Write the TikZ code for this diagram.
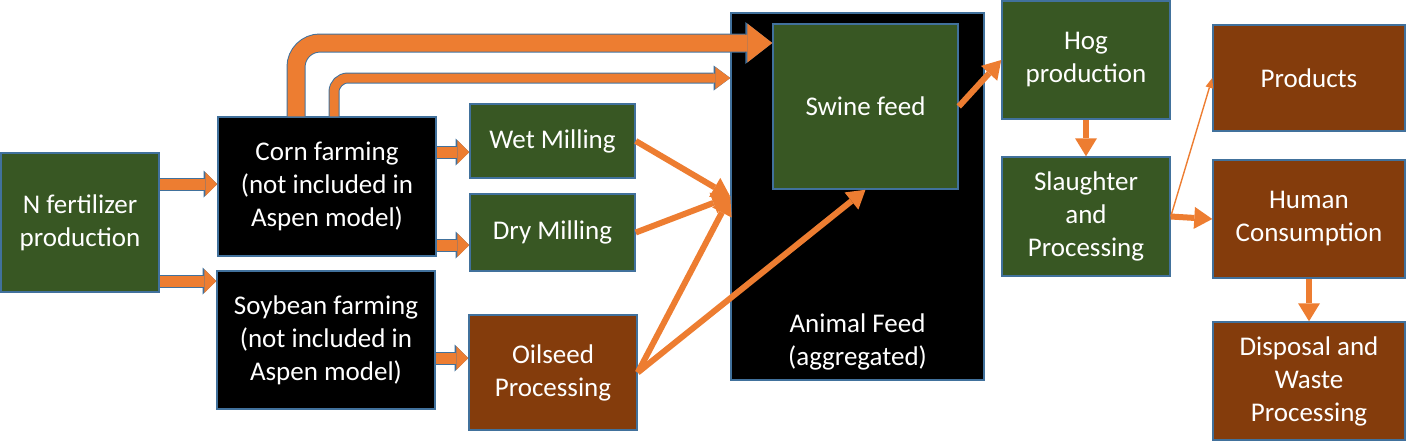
\documentclass[tikz,border=0pt]{standalone}
\usepackage{fontspec}
\setmainfont{Carlito}
\usetikzlibrary{arrows.meta, positioning}
\definecolor{boxgreen}{HTML}{385723}
\definecolor{boxbrown}{HTML}{843C0C}
\definecolor{boxblue}{HTML}{41719C}
\definecolor{arroworange}{HTML}{ED7D31}

\begin{document}
\begin{tikzpicture}[x=0.5pt, y=-0.5pt,
    block/.style={rectangle, draw=boxblue, line width=0.75pt, text=white,
      align=center, inner sep=0pt, font=\fontsize{13.5}{16.5}\selectfont},
    block_green/.style={block, fill=boxgreen},
    block_brown/.style={block, fill=boxbrown},
    block_black/.style={block, fill=black},
    flow/.style={draw=arroworange, line width=3pt,
      -{Triangle[width=11pt, length=9pt, line width=0pt]}},
    flow_thin/.style={draw=arroworange, line width=0.7pt,
      -{Triangle[width=4pt, length=5pt, line width=0pt]}},
    flow_block/.style={draw=arroworange, line width=5.5pt,
      -{Triangle[width=12pt, length=6pt, line width=0pt]},
      preaction={draw=boxblue, line width=6.5pt,
      -{Triangle[width=13.5pt, length=6.8pt, line width=0pt]}}},
    flow_big/.style={draw=arroworange, line width=8.5pt, rounded corners=12pt,
      -{Triangle[width=19.5pt, length=12.5pt, line width=0pt]},
      preaction={draw=boxblue, line width=9.5pt,
      -{Triangle[width=21pt, length=13.5pt, line width=0pt]}}},
    flow_mid/.style={draw=arroworange, line width=4.5pt, rounded corners=7pt,
      -{Triangle[width=11pt, length=7.5pt, line width=0pt]},
      preaction={draw=boxblue, line width=5.5pt,
      -{Triangle[width=12.5pt, length=8.3pt, line width=0pt]}}}]
    \useasboundingbox (0,0) rectangle (1406,441);

    \node[block_green, minimum width=79pt, minimum height=69.5pt] (nfert) at (80,222.5) {N fertilizer\\production};
    \node[block_black, minimum width=109pt, minimum height=69.5pt] (corn) at (327,186.5) {Corn farming\\(not included in\\Aspen model)};
    \node[block_black, minimum width=109pt, minimum height=69pt] (soy) at (326,340) {Soybean farming\\(not included in\\Aspen model)};
    \node[block_green, minimum width=82.5pt, minimum height=37pt] (wet) at (552.5,141) {Wet Milling};
    \node[block_green, minimum width=82.5pt, minimum height=38.5pt] (dry) at (552.5,232.5) {Dry Milling};
    \node[block_brown, minimum width=84pt, minimum height=57.5pt] (oil) at (553,372.5) {Oilseed\\Processing};
    \node[block_black, minimum width=126.5pt, minimum height=183.5pt] (feed) at (857.5,196.5) {};
    \node[text=white, align=center, font=\fontsize{13.5}{16.5}\selectfont] (feedlabel) at (857.5,342) {Animal Feed\\(aggregated)};
    \node[block_green, minimum width=92.5pt, minimum height=82.5pt] (swine) at (865.5,106.5) {Swine feed};
    \node[block_green, minimum width=84pt, minimum height=59pt] (hog) at (1086,60) {Hog\\production};
    \node[block_green, minimum width=84pt, minimum height=59.5pt] (slaughter) at (1086,216.5) {Slaughter\\and\\Processing};
    \node[block_brown, minimum width=96pt, minimum height=53pt] (products) at (1309,78) {Products};
    \node[block_brown, minimum width=96pt, minimum height=59pt] (human) at (1309,219) {Human\\Consumption};
    \node[block_brown, minimum width=96pt, minimum height=59pt] (disposal) at (1309,381) {Disposal and\\Waste\\Processing};

    \draw[flow_block] (nfert.east |- 0,184) -- (corn.west |- 0,184);
    \draw[flow_block] (nfert.east |- 0,281) -- (soy.west |- 0,281);
    \draw[flow_block] (corn.east |- 0,152) -- (wet.west |- 0,152);
    \draw[flow_block] (corn.east |- 0,245) -- (dry.west |- 0,245);
    \draw[flow_block] (soy.east |- 0,358) -- (oil.west |- 0,358);
    \draw[flow_big] (corn.north -| 296,0) |- (swine.west |- 0,43);
    \draw[flow_mid] (corn.north -| 334,0) |- (feed.west |- 0,78);
    \draw[flow] (wet.east) -- (feed.west);
    \draw[flow] (dry.east) -- (feed.west);
    \draw[flow] (oil.east) -- (feed.west);
    \draw[flow] (oil.east) -- (swine.south);
    \draw[flow] (swine.east) -- (hog.west);
    \draw[flow] (hog.south) -- (slaughter.north);
    \draw[flow] (slaughter.east) -- (human.west);
    \draw[flow_thin] (slaughter.east) -- (products.west);
    \draw[flow] (human.south) -- (disposal.north);
\end{tikzpicture}
\end{document}
